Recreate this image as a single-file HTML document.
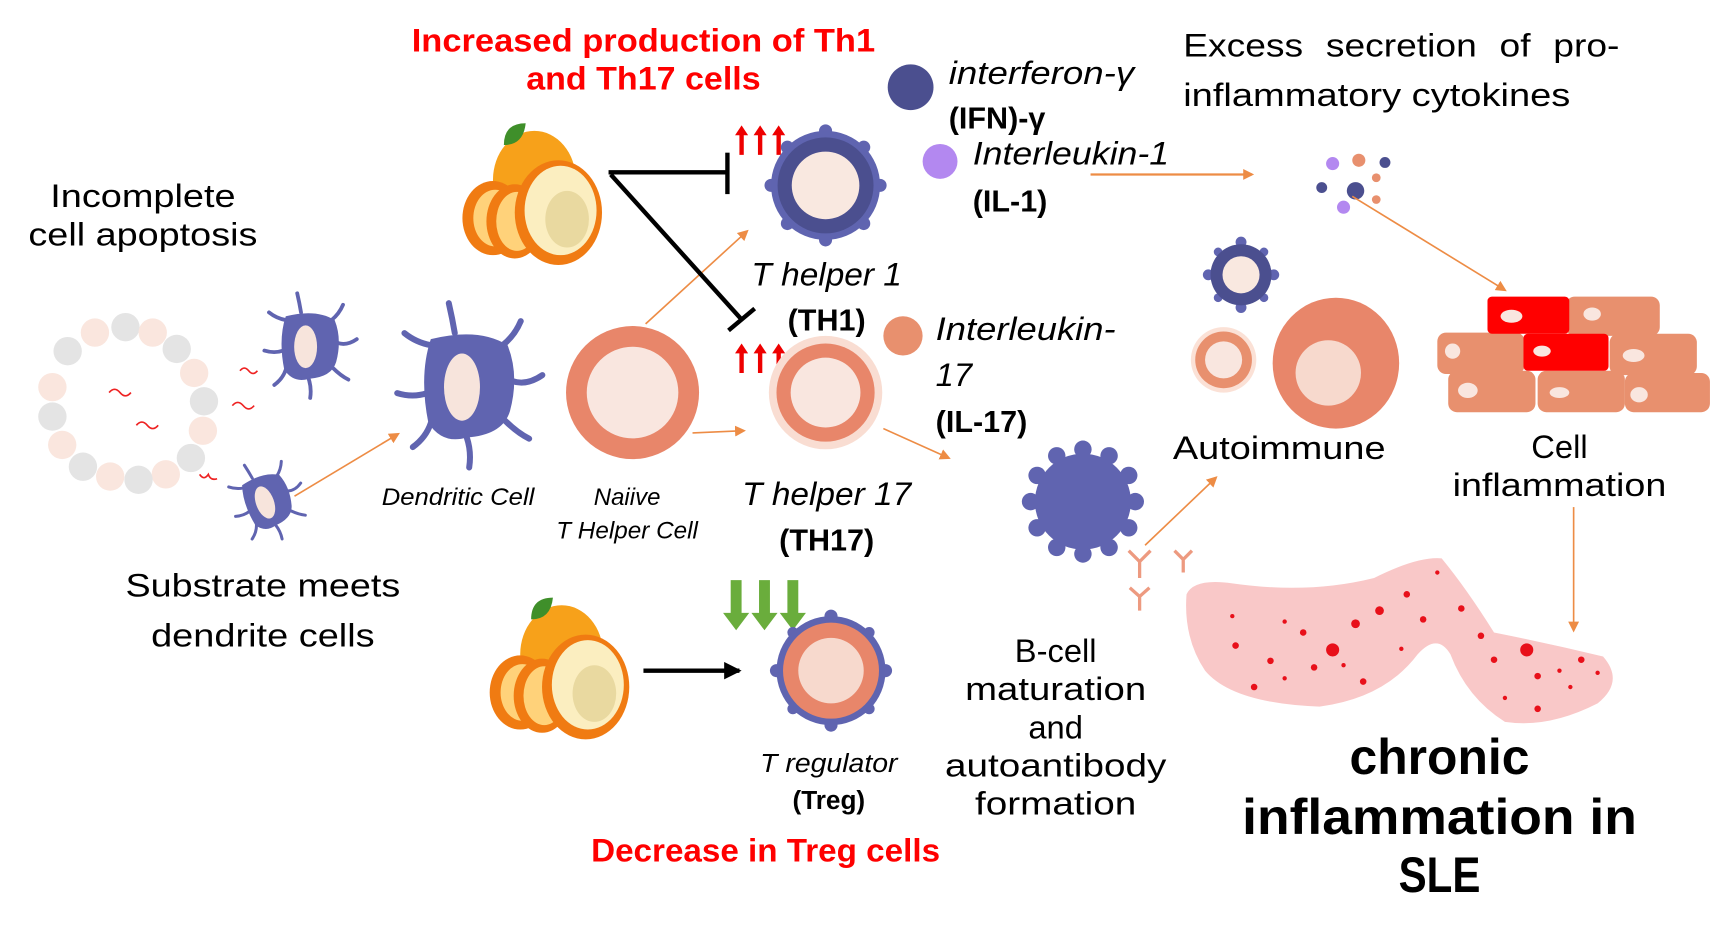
<!DOCTYPE html>
<html><head><meta charset="utf-8"><style>
html,body{margin:0;padding:0;background:#fff;}
svg{display:block}
text{font-family:"Liberation Sans",sans-serif;}
</style></head><body>
<svg width="1710" height="946" viewBox="0 0 1568 867.5" xmlns="http://www.w3.org/2000/svg">
<defs>
<marker id="oa" markerWidth="10" markerHeight="10" refX="8" refY="5" orient="auto" markerUnits="userSpaceOnUse"><path d="M0,0 L10,5 L0,10 z" fill="#ed8c45"/></marker>
<marker id="ba" markerWidth="16" markerHeight="16" refX="14" refY="8" orient="auto" markerUnits="userSpaceOnUse"><path d="M0,0 L16,8 L0,16 z" fill="#000"/></marker>
<g id="fruit">
<ellipse cx="0" cy="-20" rx="38" ry="45" fill="#f7a11a"/>
<path d="M-8,-72 q-20,0 -20,20 q18,0 20,-20z" fill="#3f8f2a"/>
<ellipse cx="-38" cy="15" rx="28" ry="34" fill="#f07b12"/>
<ellipse cx="-36" cy="15" rx="20" ry="26" fill="#ffd27a"/>
<ellipse cx="-18" cy="18" rx="26" ry="34" fill="#f07b12"/>
<ellipse cx="-16" cy="18" rx="19" ry="27" fill="#ffd27a"/>
<ellipse cx="22" cy="10" rx="40" ry="48" fill="#f07b12"/>
<ellipse cx="24" cy="8" rx="33" ry="41" fill="#fbeec0"/>
<ellipse cx="30" cy="16" rx="20" ry="26" fill="#e9d9a0"/>
</g>
<g id="dc">
<path d="M-30,-40 Q-40,-10 -32,30 Q-20,48 0,42 Q30,40 36,20 Q44,-10 34,-35 Q10,-50 -30,-40z" fill="#6064b0"/>
<path d="M-30,-35 q-12,-2 -22,-10 M-33,5 q-12,4 -25,0 M-30,30 q-4,12 -15,20 M0,42 q4,12 2,25 M32,28 q10,10 20,15 M38,-5 q12,4 25,-5 M30,-35 q10,-8 15,-20 M-10,-45 q-2,-12 -5,-25" stroke="#6064b0" stroke-width="5" fill="none" stroke-linecap="round"/>
<ellipse cx="-4" cy="0" rx="15" ry="28" fill="#f7e4dc"/>
</g>
<path id="ru" d="M-2,0 v-18 h-4 l6,-9 l6,9 h-4 v18z" fill="#e00"/>
</defs>

<!-- titles -->
<text x="590" y="47" font-size="30" font-weight="bold" fill="#f00" text-anchor="middle" textLength="425" lengthAdjust="spacingAndGlyphs">Increased production of Th1</text>
<text x="590" y="82" font-size="30" font-weight="bold" fill="#f00" text-anchor="middle" textLength="215" lengthAdjust="spacingAndGlyphs">and Th17 cells</text>
<text x="131" y="190" font-size="30" text-anchor="middle" textLength="170" lengthAdjust="spacingAndGlyphs">Incomplete</text>
<text x="131" y="225" font-size="30" text-anchor="middle" textLength="210" lengthAdjust="spacingAndGlyphs">cell apoptosis</text>
<text x="1085" y="52" font-size="30" textLength="400" lengthAdjust="spacingAndGlyphs" word-spacing="10">Excess secretion of pro-</text>
<text x="1085" y="97" font-size="30" textLength="355" lengthAdjust="spacingAndGlyphs">inflammatory cytokines</text>

<!-- apoptosis ring -->
<g>
<circle cx="115" cy="300" r="13" fill="#e4e4e4"/><circle cx="140" cy="305" r="13" fill="#fae6de"/>
<circle cx="162" cy="320" r="13" fill="#e4e4e4"/><circle cx="178" cy="342" r="13" fill="#fae6de"/>
<circle cx="187" cy="368" r="13" fill="#e4e4e4"/><circle cx="186" cy="395" r="13" fill="#fae6de"/>
<circle cx="175" cy="420" r="13" fill="#e4e4e4"/><circle cx="152" cy="435" r="13" fill="#fae6de"/>
<circle cx="127" cy="440" r="13" fill="#e4e4e4"/><circle cx="101" cy="437" r="13" fill="#fae6de"/>
<circle cx="76" cy="428" r="13" fill="#e4e4e4"/><circle cx="57" cy="408" r="13" fill="#fae6de"/>
<circle cx="48" cy="382" r="13" fill="#e4e4e4"/><circle cx="48" cy="355" r="13" fill="#fae6de"/>
<circle cx="62" cy="322" r="13" fill="#e4e4e4"/><circle cx="87" cy="305" r="13" fill="#fae6de"/>
<g stroke="#e22" stroke-width="1.5" fill="none">
<path d="M100,360 q5,-6 10,0 q5,6 10,0"/><path d="M125,390 q5,-6 10,0 q5,6 10,0"/>
<path d="M213,372 q5,-6 10,0 q5,6 10,0"/><path d="M220,340 q4,-5 8,0 q4,5 8,0"/>
<path d="M183,435 q4,6 8,0 q2,6 8,4"/>
</g>
</g>
<g transform="translate(283,318) scale(0.7)"><use href="#dc"/></g>
<g transform="translate(245,460) scale(0.55) rotate(-20)"><use href="#dc"/></g>
<g transform="translate(428,355) scale(1.1)"><use href="#dc"/></g>

<line x1="270" y1="455" x2="365" y2="398" stroke="#ed8c45" stroke-width="1.5" marker-end="url(#oa)"/>

<text x="241" y="547" font-size="30" text-anchor="middle" textLength="252" lengthAdjust="spacingAndGlyphs">Substrate meets</text>
<text x="241" y="593" font-size="30" text-anchor="middle" textLength="205" lengthAdjust="spacingAndGlyphs">dendrite cells</text>
<text x="420" y="463" font-size="22" font-style="italic" text-anchor="middle" textLength="140" lengthAdjust="spacingAndGlyphs">Dendritic Cell</text>
<text x="575" y="463" font-size="22" font-style="italic" text-anchor="middle">Naiive</text>
<text x="575" y="494" font-size="22" font-style="italic" text-anchor="middle" textLength="130" lengthAdjust="spacingAndGlyphs">T Helper Cell</text>

<!-- naive -->
<circle cx="580" cy="360" r="61" fill="#e8866a"/><circle cx="580" cy="360" r="42" fill="#f9e6df"/>
<line x1="592" y1="297" x2="685" y2="212" stroke="#ed8c45" stroke-width="1.5" marker-end="url(#oa)"/>
<line x1="635" y1="397" x2="682" y2="395" stroke="#ed8c45" stroke-width="1.5" marker-end="url(#oa)"/>
<line x1="810" y1="393" x2="870" y2="420" stroke="#ed8c45" stroke-width="1.5" marker-end="url(#oa)"/>

<!-- fruits -->
<g transform="translate(490,185)"><use href="#fruit"/></g>
<g transform="translate(515,620)"><use href="#fruit"/></g>

<!-- inhibitors -->
<g stroke="#000" stroke-width="4" fill="none">
<line x1="558" y1="158" x2="667" y2="158"/><line x1="667" y1="140" x2="667" y2="178"/>
<line x1="560" y1="160" x2="680" y2="293"/><line x1="668" y1="303" x2="692" y2="283"/>
</g>
<line x1="590" y1="615" x2="678" y2="615" stroke="#000" stroke-width="4" marker-end="url(#ba)"/>

<!-- red up arrows -->
<use href="#ru" x="680" y="142"/><use href="#ru" x="697" y="142"/><use href="#ru" x="714" y="142"/>
<use href="#ru" x="680" y="342"/><use href="#ru" x="697" y="342"/><use href="#ru" x="714" y="342"/>
<!-- green down arrows -->
<g fill="#6aad3c">
<path d="M670,532h10v30h7l-12,16l-12,-16h7z"/><path d="M696,532h10v30h7l-12,16l-12,-16h7z"/><path d="M722,532h10v30h7l-12,16l-12,-16h7z"/>
</g>

<!-- TH1 -->
<g>
<g fill="#6064b0"><circle cx="757" cy="120" r="6"/><circle cx="757" cy="220" r="6"/><circle cx="707" cy="170" r="6"/><circle cx="807" cy="170" r="6"/><circle cx="722" cy="135" r="6"/><circle cx="792" cy="135" r="6"/><circle cx="722" cy="205" r="6"/><circle cx="792" cy="205" r="6"/></g>
<circle cx="757" cy="170" r="50" fill="#5f64b0"/><circle cx="757" cy="170" r="44" fill="#4b4f8f"/><circle cx="757" cy="170" r="31" fill="#f9e8e0"/>
</g>
<text x="758" y="262" font-size="30" font-style="italic" text-anchor="middle" textLength="138" lengthAdjust="spacingAndGlyphs">T helper 1</text>
<text x="758" y="303" font-size="28" font-weight="bold" text-anchor="middle">(TH1)</text>
<!-- TH17 -->
<circle cx="757" cy="360" r="52" fill="#f9ddd2"/><circle cx="757" cy="360" r="45" fill="#e8866a"/><circle cx="757" cy="360" r="32" fill="#f9e6df"/>
<text x="758" y="463" font-size="30" font-style="italic" text-anchor="middle" textLength="155" lengthAdjust="spacingAndGlyphs">T helper 17</text>
<text x="758" y="505" font-size="28" font-weight="bold" text-anchor="middle">(TH17)</text>
<!-- Treg -->
<g fill="#6064b0"><circle cx="762" cy="565" r="6"/><circle cx="762" cy="665" r="6"/><circle cx="712" cy="615" r="6"/><circle cx="812" cy="615" r="6"/><circle cx="727" cy="580" r="5"/><circle cx="797" cy="580" r="5"/><circle cx="727" cy="650" r="5"/><circle cx="797" cy="650" r="5"/></g>
<circle cx="762" cy="615" r="50" fill="#5f64b0"/><circle cx="762" cy="615" r="44" fill="#e8866a"/><circle cx="762" cy="615" r="30" fill="#f7d9cd"/>
<text x="760" y="708" font-size="24" font-style="italic" text-anchor="middle" textLength="126" lengthAdjust="spacingAndGlyphs">T regulator</text>
<text x="760" y="742" font-size="24" font-weight="bold" text-anchor="middle">(Treg)</text>
<text x="702" y="790" font-size="30" font-weight="bold" fill="#f00" text-anchor="middle" textLength="320" lengthAdjust="spacingAndGlyphs">Decrease in Treg cells</text>

<!-- cytokines -->
<circle cx="835" cy="80" r="21" fill="#4b4f8f"/>
<text x="870" y="77" font-size="30" font-style="italic" textLength="170" lengthAdjust="spacingAndGlyphs">interferon-γ</text>
<text x="870" y="118" font-size="28" font-weight="bold">(IFN)-γ</text>
<circle cx="862" cy="148" r="16" fill="#b388f0"/>
<text x="892" y="151" font-size="30" font-style="italic" textLength="180" lengthAdjust="spacingAndGlyphs">Interleukin-1</text>
<text x="892" y="194" font-size="28" font-weight="bold">(IL-1)</text>
<circle cx="828" cy="308" r="18" fill="#e8906e"/>
<text x="858" y="312" font-size="30" font-style="italic" textLength="165" lengthAdjust="spacingAndGlyphs">Interleukin-</text>
<text x="858" y="354" font-size="30" font-style="italic">17</text>
<text x="858" y="396" font-size="28" font-weight="bold">(IL-17)</text>

<line x1="1000" y1="160" x2="1148" y2="160" stroke="#ed8c45" stroke-width="2" marker-end="url(#oa)"/>
<circle cx="1222" cy="150" r="6" fill="#b388f0"/><circle cx="1246" cy="147" r="6" fill="#e8906e"/><circle cx="1270" cy="149" r="5" fill="#4b4f8f"/>
<circle cx="1212" cy="172" r="5" fill="#4b4f8f"/><circle cx="1243" cy="175" r="8" fill="#4b4f8f"/><circle cx="1262" cy="163" r="4" fill="#e8906e"/><circle cx="1262" cy="183" r="4" fill="#e8906e"/><circle cx="1232" cy="190" r="6" fill="#b388f0"/>
<line x1="1240" y1="180" x2="1380" y2="266" stroke="#ed8c45" stroke-width="1.5" marker-end="url(#oa)"/>

<!-- tissue -->
<g>
<rect x="1436" y="272" width="86" height="36" rx="8" fill="#e8906e"/>
<rect x="1318" y="305" width="80" height="38" rx="8" fill="#e8906e"/>
<rect x="1476" y="306" width="80" height="38" rx="8" fill="#e8906e"/>
<rect x="1328" y="340" width="80" height="38" rx="8" fill="#e8906e"/>
<rect x="1410" y="340" width="80" height="38" rx="8" fill="#e8906e"/>
<rect x="1490" y="342" width="78" height="36" rx="8" fill="#e8906e"/>
<rect x="1364" y="272" width="75" height="34" rx="4" fill="#f00"/>
<rect x="1397" y="306" width="78" height="34" rx="4" fill="#f00"/>
<g fill="#f9e6df"><ellipse cx="1386" cy="290" rx="10" ry="6"/><ellipse cx="1460" cy="288" rx="8" ry="6"/><ellipse cx="1332" cy="322" rx="7" ry="7"/><ellipse cx="1414" cy="322" rx="8" ry="5"/><ellipse cx="1498" cy="326" rx="10" ry="6"/><ellipse cx="1346" cy="358" rx="9" ry="7"/><ellipse cx="1430" cy="360" rx="9" ry="5"/><ellipse cx="1503" cy="362" rx="8" ry="7"/></g>
</g>
<text x="1430" y="420" font-size="30" text-anchor="middle">Cell</text>
<text x="1430" y="455" font-size="30" text-anchor="middle" textLength="196" lengthAdjust="spacingAndGlyphs">inflammation</text>
<line x1="1443" y1="465" x2="1443" y2="578" stroke="#ed8c45" stroke-width="1.5" marker-end="url(#oa)"/>

<!-- autoimmune cells -->
<g fill="#6064b0"><circle cx="1138" cy="222" r="5"/><circle cx="1138" cy="282" r="5"/><circle cx="1108" cy="252" r="5"/><circle cx="1168" cy="252" r="5"/><circle cx="1117" cy="231" r="4"/><circle cx="1159" cy="231" r="4"/><circle cx="1117" cy="273" r="4"/><circle cx="1159" cy="273" r="4"/></g>
<circle cx="1138" cy="252" r="28" fill="#4b4f8f"/><circle cx="1138" cy="252" r="17" fill="#f9e8e0"/>
<circle cx="1122" cy="330" r="30" fill="#fbe1d6"/><circle cx="1122" cy="330" r="26" fill="#e8906e"/><circle cx="1122" cy="330" r="17" fill="#f9e6df"/>
<ellipse cx="1225" cy="333" rx="58" ry="60" fill="#e8866a"/><circle cx="1218" cy="342" r="30" fill="#f7d9cd"/>
<text x="1173" y="421" font-size="30" text-anchor="middle" textLength="195" lengthAdjust="spacingAndGlyphs">Autoimmune</text>

<!-- B cell -->
<g fill="#6064b0">
<circle cx="993" cy="460" r="44"/>
<circle cx="993" cy="412" r="8"/><circle cx="993" cy="508" r="8"/><circle cx="945" cy="460" r="8"/><circle cx="1041" cy="460" r="8"/>
<circle cx="1017" cy="418" r="8"/><circle cx="969" cy="418" r="8"/><circle cx="1017" cy="502" r="8"/><circle cx="969" cy="502" r="8"/>
<circle cx="1035" cy="436" r="8"/><circle cx="951" cy="436" r="8"/><circle cx="1035" cy="484" r="8"/><circle cx="951" cy="484" r="8"/>
</g>
<g stroke="#ed9a80" stroke-width="3" fill="none">
<path d="M1045,530 v-15 l-10,-10 M1045,515 l10,-10"/>
<path d="M1085,525 v-12 l-8,-8 M1085,513 l8,-8"/>
<path d="M1045,560 v-13 l-9,-8 M1045,547 l9,-8"/>
</g>
<line x1="1050" y1="500" x2="1115" y2="438" stroke="#ed8c45" stroke-width="1.5" marker-end="url(#oa)"/>
<g font-size="30" text-anchor="middle">
<text x="968" y="607">B-cell</text>
<text x="968" y="642" textLength="166" lengthAdjust="spacingAndGlyphs">maturation</text>
<text x="968" y="677">and</text>
<text x="968" y="712" textLength="203" lengthAdjust="spacingAndGlyphs">autoantibody</text>
<text x="968" y="747" textLength="148" lengthAdjust="spacingAndGlyphs">formation</text>
</g>

<!-- lung -->
<path d="M1088,545 Q1095,530 1130,535 Q1200,545 1260,530 Q1300,510 1322,512 Q1345,540 1370,580 Q1420,590 1470,602 Q1490,625 1465,645 Q1420,668 1380,662 Q1345,640 1330,600 Q1318,580 1300,600 Q1270,640 1210,648 Q1130,645 1105,615 Q1085,585 1088,545z" fill="#f9c8c8"/>
<g fill="#e8101a">
<circle cx="1222" cy="596" r="6"/><circle cx="1400" cy="596" r="6"/><circle cx="1133" cy="592" r="3"/><circle cx="1165" cy="606" r="3"/><circle cx="1195" cy="580" r="3"/><circle cx="1243" cy="572" r="4"/><circle cx="1265" cy="560" r="4"/><circle cx="1290" cy="545" r="3"/><circle cx="1305" cy="568" r="3"/><circle cx="1318" cy="525" r="2"/><circle cx="1150" cy="630" r="3"/><circle cx="1178" cy="622" r="2"/><circle cx="1205" cy="612" r="3"/><circle cx="1250" cy="625" r="3"/><circle cx="1130" cy="565" r="2"/><circle cx="1178" cy="570" r="2"/><circle cx="1340" cy="558" r="3"/><circle cx="1358" cy="583" r="3"/><circle cx="1370" cy="605" r="3"/><circle cx="1410" cy="620" r="3"/><circle cx="1430" cy="615" r="2"/><circle cx="1450" cy="605" r="3"/><circle cx="1380" cy="640" r="2"/><circle cx="1410" cy="650" r="3"/><circle cx="1440" cy="630" r="2"/><circle cx="1465" cy="617" r="2"/><circle cx="1285" cy="595" r="2"/><circle cx="1232" cy="610" r="2"/></g>
<g font-size="46" font-weight="bold" text-anchor="middle">
<text x="1320" y="710" textLength="165" lengthAdjust="spacingAndGlyphs">chronic</text>
<text x="1320" y="765" textLength="362" lengthAdjust="spacingAndGlyphs">inflammation in</text>
<text x="1320" y="818" textLength="75" lengthAdjust="spacingAndGlyphs">SLE</text>
</g>
</svg>
</body></html>
